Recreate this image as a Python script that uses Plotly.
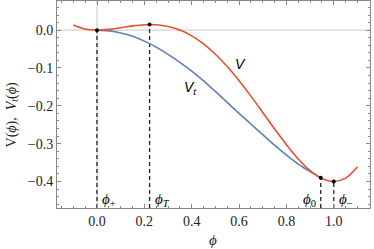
import plotly.graph_objects as go

# V(phi)
phi_v = [-0.10, -0.05, 0.00, 0.05, 0.10, 0.15, 0.20, 0.25, 0.30, 0.35, 0.40, 0.45, 0.50,
         0.55, 0.60, 0.65, 0.70, 0.75, 0.80, 0.85, 0.90, 0.95, 1.00, 1.05, 1.10]
v_vals = [0.0136, 0.0029, 0.0, 0.0020, 0.0065, 0.0112, 0.0143, 0.0142, 0.0098, 0.0002,
          -0.0151, -0.0365, -0.0637, -0.0963, -0.1336, -0.1744, -0.2174, -0.2609,
          -0.3026, -0.3403, -0.3712, -0.3923, -0.4001, -0.3910, -0.3609]

# V_t(phi)
phi_t = [0.00, 0.05, 0.10, 0.15, 0.20, 0.25, 0.30, 0.35, 0.40, 0.45, 0.50, 0.55, 0.60,
         0.65, 0.70, 0.75, 0.80, 0.85, 0.90, 0.945]
vt_vals = [0.0, -0.002, -0.0075, -0.016, -0.029, -0.045, -0.064, -0.085, -0.108, -0.134,
           -0.162, -0.191, -0.220, -0.248, -0.276, -0.304, -0.330, -0.354, -0.374, -0.390]

# marked points
mark_names = ["<i>ϕ</i><sub>+</sub>", "<i>ϕ<sub>T</sub></i>", "<i>ϕ</i><sub>0</sub>", "<i>ϕ</i><sub>−</sub>"]
mark_phi = [0.0, 0.222, 0.945, 1.0]
mark_v = [0.0, 0.0147, -0.390, -0.400]
label_phi = [0.014, 0.238, 0.934, 1.014]
label_anchor = ["left", "left", "right", "left"]

x_range = [-0.169, 1.153]
y_range = [-0.470, 0.077]

RED = "#EB4F2F"
BLUE = "#5E81B5"
SERIF = "Liberation Serif, DejaVu Serif, serif"

fig = go.Figure()

# reference lines at 0
fig.add_trace(go.Scatter(x=x_range, y=[0, 0], mode="lines",
                         line=dict(color="#C8C8C8", width=1), hoverinfo="skip", showlegend=False))
fig.add_trace(go.Scatter(x=[0, 0], y=y_range, mode="lines",
                         line=dict(color="#C8C8C8", width=1), hoverinfo="skip", showlegend=False))

# dashed drop lines
for px, pv in zip(mark_phi, mark_v):
    fig.add_trace(go.Scatter(x=[px, px], y=[y_range[0], pv], mode="lines",
                             line=dict(color="#222222", width=1.3, dash="4px,3px"),
                             hoverinfo="skip", showlegend=False))

fig.add_trace(go.Scatter(x=phi_t, y=vt_vals, mode="lines", line=dict(color=BLUE, width=1.6, shape="spline"),
                         showlegend=False))
fig.add_trace(go.Scatter(x=phi_v, y=v_vals, mode="lines", line=dict(color=RED, width=1.6, shape="spline"),
                         showlegend=False))

fig.add_trace(go.Scatter(x=mark_phi, y=mark_v, mode="markers",
                         marker=dict(color="black", size=4), showlegend=False))

for name, lx, anc in zip(mark_names, label_phi, label_anchor):
    fig.add_annotation(x=lx, y=-0.449, text=name, showarrow=False, xanchor=anc, yanchor="middle",
                       font=dict(family=SERIF, size=15, color="black"))

fig.add_annotation(x=0.605, y=-0.089, text="<i>V</i>", showarrow=False,
                   font=dict(family="Liberation Sans, sans-serif", size=14, color="black"))
fig.add_annotation(x=0.394, y=-0.154, text="<i>V<sub>t</sub></i>", showarrow=False,
                   font=dict(family="Liberation Sans, sans-serif", size=14, color="black"))

# axis titles
fig.add_annotation(xref="paper", yref="paper", x=0.498, y=0, yshift=-32, text="<i>ϕ</i>",
                   showarrow=False, xanchor="center", yanchor="middle",
                   font=dict(family=SERIF, size=15, color="#222222"))
fig.add_annotation(xref="paper", yref="paper", x=0, xshift=-45, y=0.447, textangle=-90,
                   text="V(<i>ϕ</i>),  <i>V<sub>t</sub></i>(<i>ϕ</i>)",
                   showarrow=False, xanchor="center", yanchor="middle",
                   font=dict(family=SERIF, size=14, color="#222222"))

axis_common = dict(showgrid=False, zeroline=False, showline=True, linecolor="#888888", linewidth=1,
                   mirror="ticks", ticks="inside", ticklen=4, tickcolor="#888888", automargin=False,
                   tickfont=dict(family=SERIF, size=14, color="#222222"))

fig.update_xaxes(range=x_range, tickvals=[0.0, 0.2, 0.4, 0.6, 0.8, 1.0],
                 ticktext=["0.0", "0.2", "0.4", "0.6", "0.8", "1.0"],
                 minor=dict(ticks="inside", ticklen=2, dtick=0.05, tickcolor="#888888"),
                 **axis_common)
fig.update_yaxes(range=y_range, tickvals=[0.0, -0.1, -0.2, -0.3, -0.4],
                 ticktext=["0.0", "−0.1", "−0.2", "−0.3", "−0.4"],
                 minor=dict(ticks="inside", ticklen=2, dtick=0.02, tickcolor="#888888"),
                 **axis_common)

fig.update_layout(width=374, height=249, margin=dict(l=57, r=4, t=1, b=41),
                  plot_bgcolor="white", paper_bgcolor="white")

fig.write_html("out.html", config={"displayModeBar": False},
               post_script="document.body.style.margin='0';document.body.style.overflow='hidden';")
